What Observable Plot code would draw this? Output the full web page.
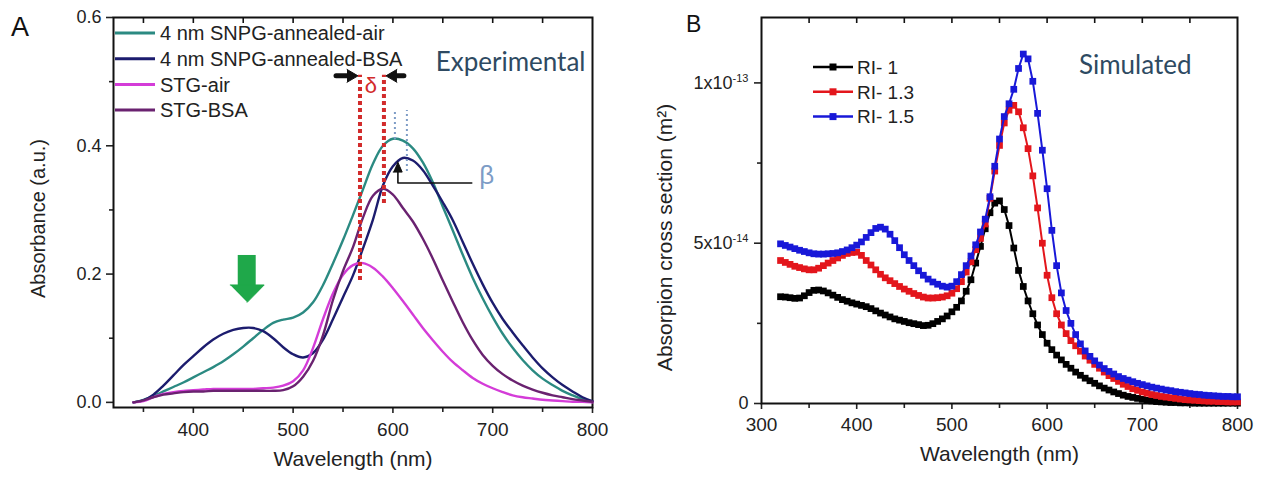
<!DOCTYPE html>
<html><head><meta charset="utf-8">
<script src="https://cdn.jsdelivr.net/npm/d3@7"></script>
<script src="https://cdn.jsdelivr.net/npm/@observablehq/plot@0.6"></script>
<style>
html,body{margin:0;padding:0;background:#fff;}
#wrap{position:relative;width:1267px;height:479px;overflow:hidden;font-family:"Liberation Sans",Arial,sans-serif;}
#a,#b{position:absolute;top:0;}
#a{left:0px;} #b{left:633px;}
.letter{position:absolute;font-family:"Liberation Sans",Arial,sans-serif;color:#111;line-height:1;}
</style></head><body>
<div id="wrap">
  <div id="a"></div><div id="b"></div>
  <div class="letter" style="left:11px;top:14px;font-size:27px;">A</div>
  <div class="letter" style="left:686px;top:13px;font-size:23px;">B</div>
</div>
<script>
// ---------- Panel A data (Experimental) ----------
const wlA = [340,350,360,370,380,390,400,410,420,430,440,450,460,470,480,490,500,510,520,530,540,550,560,570,580,590,600,610,620,630,640,650,660,670,680,690,700,710,720,730,740,750,760,770,780,790,800];
const snpgAir = [0.000,0.004,0.010,0.017,0.024,0.031,0.039,0.047,0.055,0.064,0.075,0.087,0.100,0.113,0.124,0.129,0.132,0.140,0.156,0.183,0.217,0.253,0.292,0.332,0.372,0.400,0.411,0.408,0.396,0.374,0.343,0.305,0.268,0.230,0.194,0.162,0.133,0.107,0.085,0.066,0.050,0.037,0.027,0.018,0.011,0.005,0.001];
const snpgBSA = [0.000,0.003,0.012,0.026,0.042,0.058,0.072,0.086,0.098,0.107,0.113,0.116,0.116,0.111,0.100,0.086,0.075,0.070,0.077,0.098,0.130,0.164,0.198,0.240,0.285,0.338,0.368,0.381,0.377,0.362,0.338,0.312,0.284,0.250,0.216,0.184,0.155,0.130,0.109,0.089,0.070,0.053,0.039,0.027,0.017,0.008,0.002];
const stgAir = [0.000,0.002,0.008,0.013,0.016,0.018,0.019,0.020,0.021,0.021,0.021,0.021,0.021,0.022,0.023,0.026,0.033,0.050,0.085,0.130,0.170,0.199,0.214,0.217,0.210,0.196,0.178,0.158,0.137,0.116,0.097,0.079,0.063,0.050,0.038,0.029,0.022,0.016,0.011,0.008,0.006,0.004,0.003,0.002,0.001,0.001,0.000];
const stgBSA = [0.000,0.003,0.008,0.012,0.014,0.016,0.017,0.017,0.018,0.018,0.018,0.018,0.018,0.018,0.018,0.019,0.025,0.040,0.065,0.105,0.160,0.205,0.242,0.288,0.322,0.333,0.324,0.303,0.282,0.255,0.224,0.190,0.157,0.125,0.097,0.074,0.057,0.044,0.034,0.026,0.020,0.015,0.011,0.008,0.005,0.003,0.001];
const namesA = ["4 nm SNPG-annealed-air","4 nm SNPG-annealed-BSA","STG-air","STG-BSA"];
const colorsA = ["#2b8a82","#1c1c6e","#d43cd8","#6a2270"];
const valuesA = [snpgAir, snpgBSA, stgAir, stgBSA];

const xTicksA = [400,500,600,700,800];
const xMinorA = [350,450,550,650,750];
const xTopA = [350,400,450,500,550,600,650,700,750];
const yTicksA = [0,0.2,0.4,0.6];
const yMinorA = [0.1,0.3,0.5];

// annotations A
const deltaRulesX = [567,591];
const deltaRulesY1 = [0.19,0.31];
const deltaRulesY2 = [0.51,0.51];
const betaRulesX = [602,614];
const betaRulesY1 = [0.41,0.36];
const betaRulesY2 = [0.455,0.455];
const deltaLeftShaft = [[543,0.509],[555,0.509]];
const deltaLeftHead = [[554,0.519],[565,0.509],[554,0.499]];
const deltaRightShaft = [[603,0.509],[611,0.509]];
const deltaRightHead = [[604,0.519],[593,0.509],[604,0.499]];
const betaPath = [[679,0.342],[605,0.342],[605,0.362]];
const betaHead = [[600.3,0.359],[609.3,0.359],[604.8,0.375]];
const greenShaft = [{x1:445,x2:463,y1:0.182,y2:0.229}];
const greenHead = [[437,0.183],[471,0.183],[454,0.156]];
const deltaLabel = [{x:578,y:0.493,t:"δ"}];
const betaLabel = [{x:694,y:0.353,t:"β"}];

// ---------- Panel B data (Simulated), values in units of 1e-14 m^2 ----------
const wlB = [320,325,330,335,340,345,350,355,360,365,370,375,380,385,390,395,400,405,410,415,420,425,430,435,440,445,450,455,460,465,470,475,480,485,490,495,500,505,510,515,520,525,530,535,540,545,550,555,560,565,570,575,580,585,590,595,600,605,610,615,620,625,630,635,640,645,650,655,660,665,670,675,680,685,690,695,700,705,710,715,720,725,730,735,740,745,750,755,760,765,770,775,780,785,790,795,800];
const ri1 = [3.33,3.32,3.30,3.28,3.29,3.36,3.46,3.53,3.54,3.51,3.45,3.38,3.31,3.24,3.19,3.14,3.10,3.06,3.02,2.96,2.89,2.82,2.76,2.70,2.64,2.60,2.56,2.52,2.49,2.46,2.43,2.44,2.49,2.56,2.64,2.73,2.86,3.00,3.20,3.50,3.86,4.38,4.90,5.45,5.95,6.25,6.32,6.05,5.55,4.85,4.15,3.65,3.20,2.80,2.45,2.15,1.88,1.68,1.51,1.36,1.22,1.10,0.98,0.88,0.79,0.71,0.63,0.55,0.48,0.42,0.36,0.31,0.26,0.22,0.19,0.16,0.13,0.10,0.08,0.06,0.05,0.04,0.03,0.03,0.02,0.02,0.02,0.01,0.01,0.01,0.01,0.01,0.01,0.01,0.01,0.01,0.01];
const ri13 = [4.46,4.40,4.34,4.28,4.24,4.20,4.17,4.17,4.22,4.30,4.38,4.46,4.54,4.62,4.68,4.71,4.72,4.62,4.46,4.32,4.17,4.03,3.92,3.83,3.74,3.65,3.57,3.50,3.43,3.37,3.32,3.29,3.29,3.30,3.32,3.36,3.44,3.58,3.80,4.10,4.42,4.80,5.15,5.60,6.40,7.25,8.05,8.75,9.15,9.30,9.10,8.60,7.95,7.10,6.10,5.00,4.00,3.30,2.80,2.45,2.18,1.96,1.80,1.63,1.48,1.35,1.22,1.10,0.98,0.87,0.78,0.69,0.60,0.53,0.46,0.41,0.36,0.32,0.28,0.25,0.22,0.20,0.18,0.16,0.14,0.12,0.11,0.10,0.09,0.08,0.07,0.07,0.06,0.06,0.05,0.05,0.05];
const ri15 = [4.98,4.93,4.88,4.83,4.78,4.74,4.70,4.67,4.66,4.66,4.67,4.68,4.70,4.74,4.79,4.86,4.94,5.04,5.18,5.33,5.46,5.50,5.44,5.28,5.08,4.86,4.64,4.46,4.30,4.14,4.00,3.88,3.79,3.72,3.66,3.63,3.66,3.80,4.02,4.30,4.60,4.95,5.35,5.75,6.45,7.40,8.25,8.95,9.35,9.80,10.45,10.90,10.75,10.05,9.05,7.90,6.70,5.40,4.30,3.45,2.90,2.50,2.15,1.86,1.64,1.47,1.33,1.20,1.09,1.00,0.92,0.84,0.78,0.73,0.68,0.63,0.59,0.55,0.51,0.48,0.45,0.42,0.40,0.37,0.35,0.33,0.31,0.29,0.28,0.26,0.25,0.24,0.23,0.22,0.22,0.21,0.21];
const namesB = ["RI- 1","RI- 1.3","RI- 1.5"];
const colorsB = ["#000000","#e3161c","#1818d8"];
const valuesB = [ri1, ri13, ri15];

const xTicksB = [300,400,500,600,700,800];
const xMinorB = [350,450,550,650,750];
const xTopB = [350,400,450,500,550,600,650,700,750];
const yTicksB = [0,5,10];
const yTickLabelsB = ["0","5x10^-14","1x10^-13"];
const yMinorB = [2.5,7.5];

// ---------- build ----------
const FONT = "'Liberation Sans', Arial, sans-serif";
const TITLEFONT = "Lato, 'Open Sans', sans-serif";
const rowsA = namesA.flatMap((n, k) => wlA.map((w, i) => ({wl: w, v: valuesA[k][i], name: n})));
const rowsB = namesB.flatMap((n, k) => wlB.map((w, i) => ({wl: w, v: valuesB[k][i], name: n})));

const plotA = Plot.plot({
  width: 633, height: 479,
  marginLeft: 113, marginRight: 41, marginTop: 17, marginBottom: 72,
  style: {fontFamily: FONT, fontSize: "19px", color: "#222", background: "transparent"},
  x: {domain: [320, 800], label: null},
  y: {domain: [-0.008, 0.6], label: null},
  marks: [
    Plot.axisX({ticks: xTicksA, tickSize: 6, tickPadding: 9, strokeWidth: 1.6, fontSize: 19, label: null, tickFormat: d => String(d)}),
    Plot.axisX({ticks: xMinorA, tickSize: 5, strokeWidth: 1.6, label: null, tickFormat: () => ""}),
    Plot.tickX(xTopA, {x: d => d, insetBottom: 384, stroke: "#111", strokeWidth: 1.6}),
    Plot.axisY({ticks: yTicksA, tickSize: 7, tickPadding: 5, strokeWidth: 1.6, fontSize: 18, label: null, tickFormat: d3.format(".1f")}),
    Plot.axisY({ticks: yMinorA, tickSize: 4, strokeWidth: 1.6, label: null, tickFormat: () => ""}),
    Plot.frame({stroke: "#111", strokeWidth: 2}),
    ...namesA.map((n, k) => Plot.line(rowsA.filter(d => d.name === n), {x: "wl", y: "v", stroke: colorsA[k], strokeWidth: 2.4, curve: "catmull-rom"})),
    Plot.ruleX(deltaRulesX, {x: d => d, y1: (d, i) => deltaRulesY1[i], y2: (d, i) => deltaRulesY2[i], stroke: "#d22b2b", strokeWidth: 4, strokeDasharray: "4,3"}),
    Plot.ruleX(betaRulesX, {x: d => d, y1: (d, i) => betaRulesY1[i], y2: (d, i) => betaRulesY2[i], stroke: "#7d9cc6", strokeWidth: 2, strokeDasharray: "2,3"}),
    Plot.line(deltaLeftShaft, {x: d => d[0], y: d => d[1], stroke: "#111", strokeWidth: 5}),
    Plot.line(deltaLeftHead, {x: d => d[0], y: d => d[1], fill: "#111", stroke: "#111", strokeWidth: 1}),
    Plot.line(deltaRightShaft, {x: d => d[0], y: d => d[1], stroke: "#111", strokeWidth: 5}),
    Plot.line(deltaRightHead, {x: d => d[0], y: d => d[1], fill: "#111", stroke: "#111", strokeWidth: 1}),
    Plot.line(betaPath, {x: d => d[0], y: d => d[1], stroke: "#111", strokeWidth: 1.6}),
    Plot.line(betaHead, {x: d => d[0], y: d => d[1], fill: "#111", stroke: "#111", strokeWidth: 1}),
    Plot.rect(greenShaft, {x1: "x1", x2: "x2", y1: "y1", y2: "y2", fill: "#1fa84a"}),
    Plot.line(greenHead, {x: d => d[0], y: d => d[1], fill: "#1fa84a", stroke: "#1fa84a", strokeWidth: 1}),
    Plot.text(deltaLabel, {x: "x", y: "y", text: "t", fill: "#d22b2b", fontSize: 22, fontFamily: FONT}),
    Plot.text(betaLabel, {x: "x", y: "y", text: "t", fill: "#7d9cc6", fontSize: 26, fontFamily: FONT}),
    Plot.text(["Experimental"], {frameAnchor: "top-right", textAnchor: "end", dx: -7, dy: 35, fill: "#2e4a62", fontSize: 26, fontFamily: TITLEFONT}),
    Plot.text(["Wavelength (nm)"], {frameAnchor: "bottom", dy: 58, fill: "#222", fontSize: 21, fontFamily: FONT}),
    Plot.text(["Absorbance (a.u.)"], {frameAnchor: "left", textAnchor: "middle", rotate: -90, dx: -75, dy: 6, fill: "#222", fontSize: 20, fontFamily: FONT})
  ]
});

const plotB = Plot.plot({
  width: 634, height: 479,
  marginLeft: 128, marginRight: 30, marginTop: 17, marginBottom: 76,
  style: {fontFamily: FONT, fontSize: "19px", color: "#222", background: "transparent"},
  x: {domain: [300, 800], label: null},
  y: {domain: [0, 12.04], label: null},
  marks: [
    Plot.axisX({ticks: xTicksB, tickSize: 6, tickPadding: 8, strokeWidth: 1.6, fontSize: 19, label: null, tickFormat: d => String(d)}),
    Plot.axisX({ticks: xMinorB, tickSize: 5, strokeWidth: 1.6, label: null, tickFormat: () => ""}),
    Plot.tickX(xTopB, {x: d => d, insetBottom: 380, stroke: "#111", strokeWidth: 1.6}),
    Plot.axisY({ticks: yTicksB, tickSize: 7, tickPadding: 6, strokeWidth: 1.6, fontSize: 18, label: null, tickFormat: d => yTickLabelsB[yTicksB.indexOf(d)]}),
    Plot.axisY({ticks: yMinorB, tickSize: 4, strokeWidth: 1.6, label: null, tickFormat: () => ""}),
    Plot.frame({stroke: "#111", strokeWidth: 2}),
    ...namesB.flatMap((n, k) => [
      Plot.line(rowsB.filter(d => d.name === n), {x: "wl", y: "v", stroke: colorsB[k], strokeWidth: 2}),
      Plot.dot(rowsB.filter(d => d.name === n), {x: "wl", y: "v", symbol: "square", r: 3.8, fill: colorsB[k], stroke: "none"})
    ]),
    Plot.text(["Simulated"], {frameAnchor: "top-right", textAnchor: "end", dx: -46, dy: 38, fill: "#2e4a62", fontSize: 26, fontFamily: TITLEFONT}),
    Plot.text(["Wavelength (nm)"], {frameAnchor: "bottom", dy: 57, fill: "#222", fontSize: 21, fontFamily: FONT}),
    Plot.text(["Absorpion cross section (m²)"], {frameAnchor: "left", textAnchor: "middle", rotate: -90, dx: -96, dy: 27, fill: "#222", fontSize: 21, fontFamily: FONT})
  ]
});

document.getElementById("a").appendChild(plotA);
document.getElementById("b").appendChild(plotB);

// superscripts on panel B y tick labels
d3.select(plotB).selectAll('g[aria-label="y-axis tick label"] text').each(function () {
  const t = this.textContent;
  if (t.includes("^")) {
    const [base, exp] = t.split("^");
    const s = d3.select(this);
    s.text(null);
    s.append("tspan").text(base);
    s.append("tspan").attr("dy", "-0.6em").attr("font-size", "11px").text(exp);
  }
});

// legend A
const lgA = d3.select(plotA).append("g").attr("font-family", FONT).attr("font-size", 20).attr("fill", "#222").attr("text-anchor", "start");
namesA.forEach((n, i) => {
  const y = 33 + i * 25.7;
  lgA.append("line").attr("x1", 115).attr("x2", 155).attr("y1", y).attr("y2", y).attr("stroke", colorsA[i]).attr("stroke-width", 3);
  lgA.append("text").attr("x", 160).attr("y", y).attr("dy", "0.36em").attr("text-anchor", "start").text(n);
});
// legend B
const lgB = d3.select(plotB).append("g").attr("font-family", FONT).attr("font-size", 19).attr("fill", "#222").attr("text-anchor", "start");
namesB.forEach((n, i) => {
  const y = 67 + i * 24.8;
  lgB.append("line").attr("x1", 180).attr("x2", 220).attr("y1", y).attr("y2", y).attr("stroke", colorsB[i]).attr("stroke-width", 2.5);
  lgB.append("rect").attr("x", 196.5).attr("y", y - 3.5).attr("width", 7).attr("height", 7).attr("fill", colorsB[i]);
  lgB.append("text").attr("x", 224).attr("y", y).attr("dy", "0.36em").attr("text-anchor", "start").text(n);
});
</script>
</body></html>
